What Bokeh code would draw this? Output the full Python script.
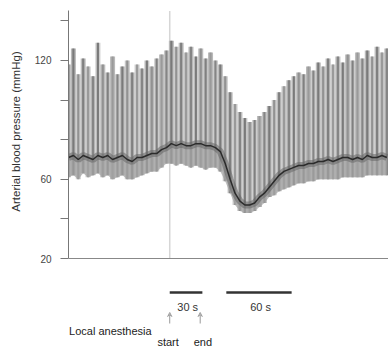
import numpy as np
from bokeh.plotting import figure
from bokeh.layouts import column
from bokeh.models import Range1d, FixedTicker, Arrow, VeeHead, Span, ColumnDataSource
from bokeh.core.properties import value
from bokeh.embed import file_html
from bokeh.resources import INLINE

# ---- data ----
beat_time = np.arange(66) * 4.5          # seconds
systolic = [118, 126, 113, 121, 117, 112, 129, 118, 114, 122, 113, 117, 120,
            114, 118, 116, 120, 117, 121, 123, 125, 130, 127, 129, 124, 127,
            122, 126, 121, 124, 120, 118, 112, 104, 98, 94, 91, 89, 90, 92,
            94, 97, 100, 104, 107, 110, 112, 114, 113, 117, 115, 119, 117,
            121, 118, 122, 119, 123, 120, 124, 121, 125, 122, 127, 124, 126]
diastolic = [61, 62, 60, 63, 61, 62, 63, 61, 62, 60, 61, 62, 60,
             60, 61, 62, 63, 64, 64, 66, 68, 68, 67, 68, 67, 66,
             67, 66, 65, 66, 66, 64, 59, 53, 47, 44, 43, 43, 44, 46,
             48, 51, 52, 54, 55, 56, 57, 58, 58, 59, 59, 60, 60,
             60, 60, 60, 61, 61, 61, 61, 61, 62, 62, 62, 62, 62]
mean_pressure = [71, 72, 70, 72, 71, 70, 72, 71, 72, 70, 71, 72, 70,
                 69, 71, 71, 72, 73, 73, 75, 76, 78, 77, 78, 77, 77,
                 78, 78, 77, 77, 76, 74, 68, 60, 53, 49, 47, 47, 48, 51,
                 53, 56, 59, 62, 64, 65, 66, 67, 67, 68, 68, 69, 69,
                 70, 69, 70, 71, 71, 70, 71, 70, 72, 71, 71, 72, 71]
ytick_values = [20, 40, 60, 80, 100, 120, 140]
ytick_labels = {20: "20", 60: "60", 120: "120"}
anesthesia_start = 93
anesthesia_end = 121
scale_bar_start = [93, 145]
scale_bar_length = [30, 60]
scale_bar_labels = ["30 s", "60 s"]

FONT = "Liberation Sans"
light_palette = ["#c6c6c6", "#b9b9b9", "#cdcdcd", "#bdbdbd"]
dark_palette = ["#858585", "#7a7a7a", "#929292", "#808080", "#9a9a9a"]

n = len(beat_time)
src = ColumnDataSource(dict(
    t=beat_time, sys=systolic, dia=diastolic, mean=mean_pressure,
    light=[light_palette[i % len(light_palette)] for i in range(n)],
    dark=[dark_palette[i % len(dark_palette)] for i in range(n)],
))

X_END = 294

# ---------------- main chart ----------------
p = figure(width=388, height=270, output_backend="svg", toolbar_location=None,
           x_range=Range1d(0, X_END), y_range=Range1d(17.98, 150.3),
           x_axis_location=None, min_border_left=68, min_border_right=0,
           min_border_top=0, min_border_bottom=8)
p.outline_line_color = None
p.grid.visible = False

ya = p.yaxis[0]
ya.ticker = FixedTicker(ticks=ytick_values)
ya.major_label_overrides = {v: ytick_labels.get(v, "") for v in ytick_values}
ya.bounds = (20, 145)
ya.minor_tick_line_color = None
ya.major_tick_in = 0
ya.major_tick_out = 8
ya.major_label_standoff = 9
ya.axis_line_color = "#777777"
ya.major_tick_line_color = "#777777"
ya.major_label_text_font = FONT
ya.major_label_text_font_size = "10px"
ya.major_label_text_color = "#444444"
ya.axis_label = "Arterial blood pressure (mmHg)"
ya.axis_label_text_font = FONT
ya.axis_label_text_font_size = "11.5px"
ya.axis_label_text_font_style = "normal"
ya.axis_label_text_color = "#333333"
ya.axis_label_standoff = 10

p.add_layout(Span(location=20, dimension="width", line_color="#888888", line_width=1))

p.segment(x0=[anesthesia_start], y0=[20], x1=[anesthesia_start], y1=[145],
          line_color="#d6d6d6", line_width=1.5)

# waveform: light full-width beats, narrow dark strokes, lower band, mean
p.vbar(x="t", width=4.6, bottom="dia", top="sys", fill_color="light",
       line_color=None, source=src)
p.vbar(x="t", width=2.0, bottom="dia", top="sys", fill_color="dark",
       line_color=None, source=src)
p.varea(x="t", y1="dia", y2="mean", fill_color="#a2a2a2", fill_alpha=0.7, source=src)
p.line(x="t", y="mean", line_color="#666666", line_width=7, line_alpha=0.55, source=src)
p.line(x="t", y="mean", line_color="#2b2b2b", line_width=1.5, source=src)

# ---------------- annotation strip below (same x mapping) ----------------
q = figure(width=388, height=77, output_backend="svg", toolbar_location=None,
           x_range=Range1d(0, X_END), y_range=Range1d(347, 270),
           x_axis_location=None, y_axis_location=None,
           min_border_left=68, min_border_right=0, min_border_top=0, min_border_bottom=0)
q.outline_line_color = None
q.grid.visible = False

sb_end = [s + l for s, l in zip(scale_bar_start, scale_bar_length)]
sb_mid = [(s + e) / 2 + 1.5 for s, e in zip(scale_bar_start, sb_end)]
q.segment(x0=scale_bar_start, y0=[292] * 2, x1=sb_end, y1=[292] * 2,
          line_color="#333333", line_width=2.5)
q.text(x=sb_mid, y=[306] * 2, text=scale_bar_labels, text_align="center",
       text_baseline="middle", text_font=value(FONT), text_font_size="11px",
       text_color="#333333")

for t in (anesthesia_start, anesthesia_end):
    q.add_layout(Arrow(end=VeeHead(size=4, line_color="#999999", line_width=1,
                                   fill_color=None),
                       x_start=t, y_start=323, x_end=t, y_end=312,
                       line_color="#999999", line_width=1))

q.text(x=[0.5], y=[330], text=["Local anesthesia"], text_align="left",
       text_baseline="middle", text_font=value(FONT), text_font_size="11px",
       text_color="#222222")
q.text(x=[anesthesia_start - 1.5, anesthesia_end + 2.5], y=[341, 341],
       text=["start", "end"], text_align="center", text_baseline="middle",
       text_font=value(FONT), text_font_size="11px", text_color="#222222")

open("out.html", "w").write(file_html(column(p, q, spacing=0), INLINE))
